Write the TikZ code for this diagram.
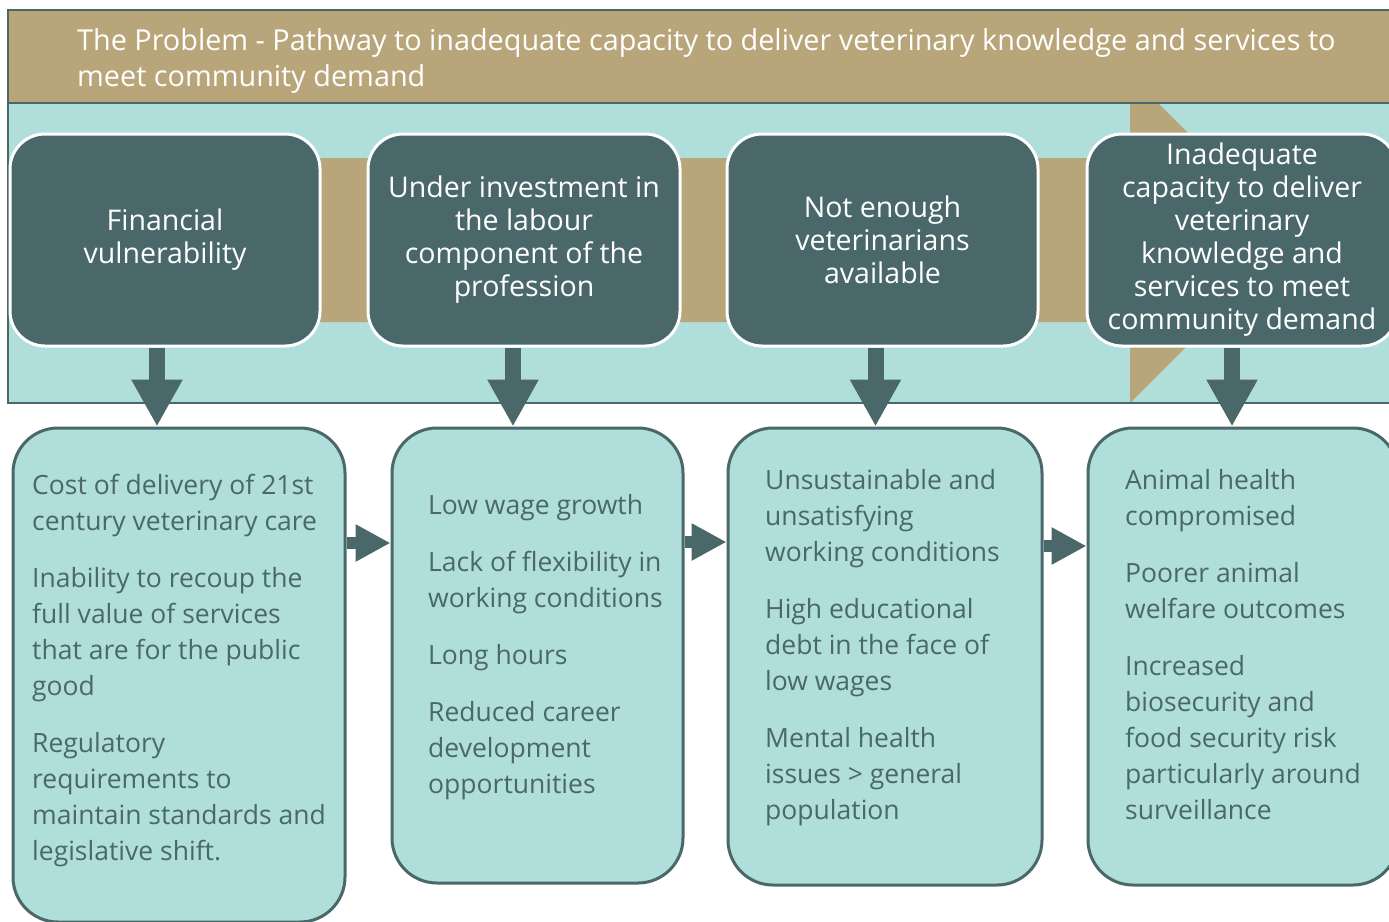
\documentclass[tikz,border=0pt]{standalone}
\usepackage{fontspec}
\setmainfont{Open Sans}
\usetikzlibrary{arrows.meta}
\definecolor{tanc}{RGB}{184,166,122}
\definecolor{lteal}{RGB}{176,222,218}
\definecolor{slate}{RGB}{74,104,105}
\newcommand{\mylines}[1]{\begin{tabular}[t]{@{}l@{}}#1\end{tabular}}
\tikzset{
  topbox/.style={draw=white, line width=3pt, fill=slate, rounded corners=35pt,
    text=white, align=center, font=\fontsize{28.5}{33}\selectfont, inner sep=0pt},
  botbox/.style={draw=slate, line width=3pt, fill=lteal, rounded corners=45pt, inner sep=0pt},
  bottext/.style={anchor=base west, text=slate, inner sep=0pt,
    font=\fontsize{26.5}{36}\selectfont},
  downarrow/.style={draw=slate, line width=16pt, -{Triangle[width=48pt,length=47pt]}},
  rightarrow/.style={draw=slate, line width=12pt, -{Triangle[width=35pt,length=35pt]}},
}
\begin{document}
\begin{tikzpicture}[x=1pt,y=-1pt]
\useasboundingbox (0,0) rectangle (1389,921);
\clip (0,0) rectangle (1389,921);
% frame
\fill[lteal] (8,103) rectangle (1400,404);
\fill[tanc] (8,10) rectangle (1400,103);
\begin{scope}
  \clip (8,103) rectangle (1400,403);
  \fill[tanc] (10,158) -- (1130,158) -- (1130,75) -- (1294,239) -- (1130,403) -- (1130,322) -- (10,322) -- cycle;
\end{scope}
\draw[slate, line width=2pt] (8,10) rectangle (1400,403);
\draw[slate, line width=2pt] (8,103) -- (1400,103);
\node[anchor=base west, text=white, inner sep=0pt, font=\fontsize{28.8}{36}\selectfont] (title) at (77,50)
  {\mylines{The Problem - Pathway to inadequate capacity to deliver veterinary knowledge and services to\\meet community demand}};
% top boxes
\node[topbox, minimum width=310pt, minimum height=212pt] (t1) at (165,240) {Financial\\vulnerability};
\node[topbox, minimum width=312pt, minimum height=212pt] (t2) at (524,240) {Under investment in\\the labour\\component of the\\profession};
\node[topbox, minimum width=311pt, minimum height=212pt] (t3) at (882.5,240) {Not enough\\veterinarians\\available};
\node[topbox, minimum width=310pt, minimum height=212pt] (t4) at (1242,240) {Inadequate\\capacity to deliver\\veterinary\\knowledge and\\services to meet\\community demand};
% bottom boxes
\node[botbox, minimum width=332pt, minimum height=494pt] (b1) at (179,675) {};
\node[botbox, minimum width=291pt, minimum height=455pt] (b2) at (537.5,655.5) {};
\node[botbox, minimum width=314pt, minimum height=457pt] (b3) at (885,656.5) {};
\node[botbox, minimum width=310pt, minimum height=457pt] (b4) at (1243,656.5) {};
% bottom texts
\node[bottext] (b1t) at (32,494) {\mylines{Cost of delivery of 21st\\century veterinary care\\[21pt]Inability to recoup the\\full value of services\\that are for the public\\good\\[21pt]Regulatory\\requirements to\\maintain standards and\\legislative shift.}};
\node[bottext] (b2t) at (428,514) {\mylines{Low wage growth\\[21pt]Lack of flexibility in\\working conditions\\[21pt]Long hours\\[21pt]Reduced career\\development\\opportunities}};
\node[bottext] (b3t) at (765,489) {\mylines{Unsustainable and\\unsatisfying\\working conditions\\[21pt]High educational\\debt in the face of\\low wages\\[21pt]Mental health\\issues > general\\population}};
\node[bottext] (b4t) at (1125,489) {\mylines{Animal health\\compromised\\[21pt]Poorer animal\\welfare outcomes\\[21pt]Increased\\biosecurity and\\food security risk\\particularly around\\surveillance}};
% down arrows
\draw[downarrow] ([xshift=-8pt]t1.south) -- ([xshift=-8pt]t1.south |- b1.north);
\draw[downarrow] ([xshift=-11pt]t2.south) -- ([xshift=-11pt]t2.south |- b2.north);
\draw[downarrow] ([xshift=-7pt]t3.south) -- ([xshift=-7pt]t3.south |- b3.north);
\draw[downarrow] ([xshift=-10pt]t4.south) -- ([xshift=-10pt]t4.south |- b4.north);
% right arrows
\draw[rightarrow] (b1.east |- 0,543) -- (b2.west |- 0,543);
\draw[rightarrow] (b2.east |- 0,542) -- (b3.west |- 0,542);
\draw[rightarrow] (b3.east |- 0,546) -- (b4.west |- 0,546);
\end{tikzpicture}
\end{document}
